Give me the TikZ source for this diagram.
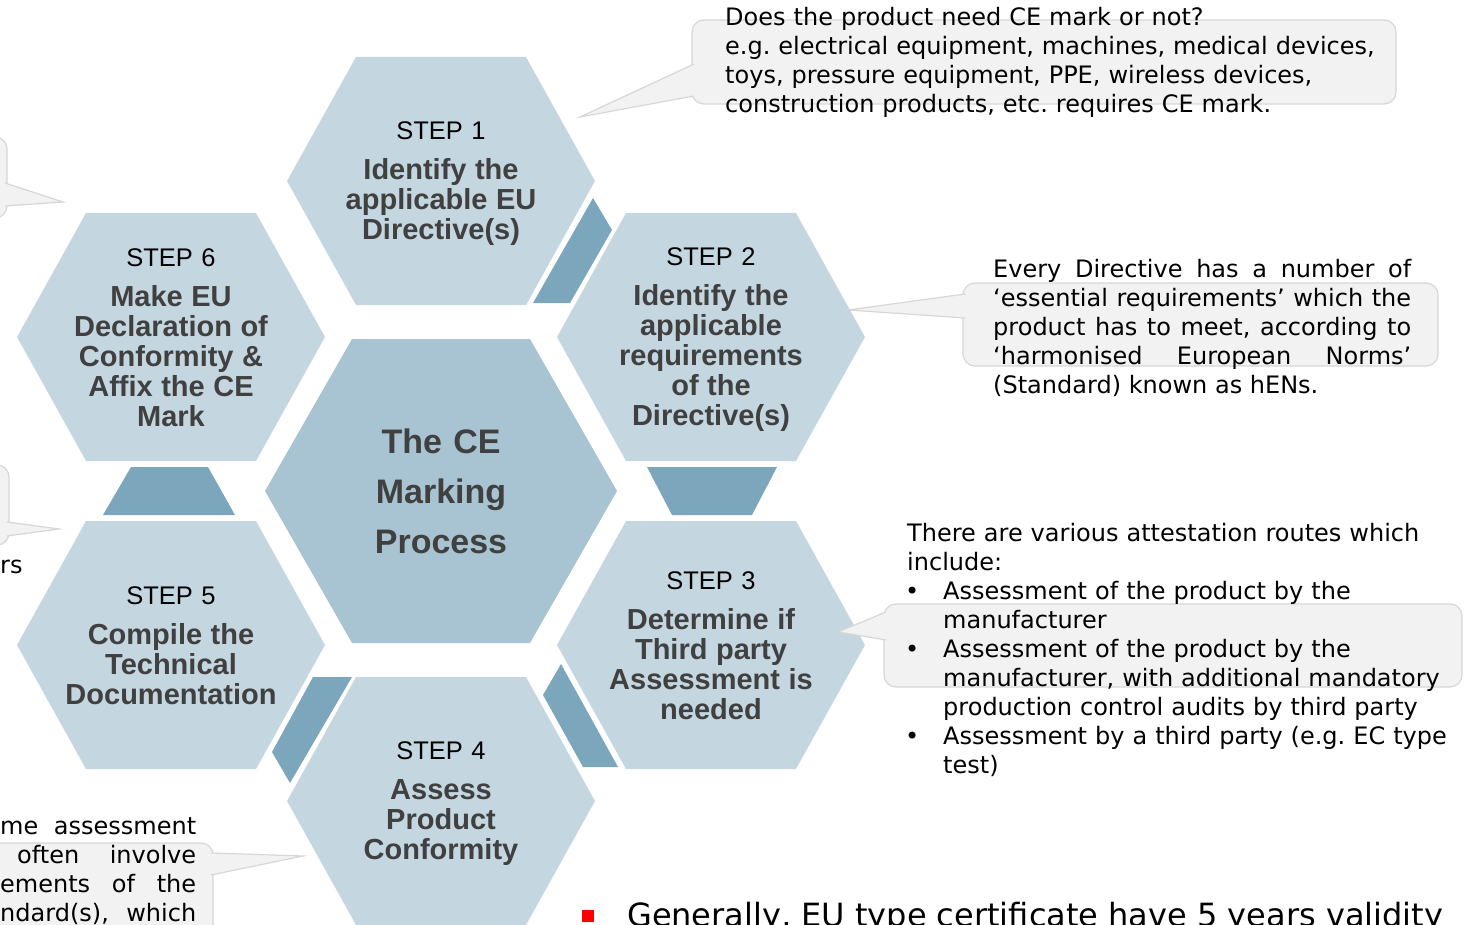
\documentclass[tikz,border=0pt]{standalone}
\usepackage{fontspec}
\setmainfont{Liberation Sans}
\newfontfamily\notefont{DejaVu Sans}
\usetikzlibrary{calc}
\definecolor{hexblue}{HTML}{C4D6E0}
\definecolor{hexcore}{HTML}{A8C3D1}
\definecolor{linkblue}{HTML}{7CA6BC}
\definecolor{titlegray}{HTML}{404040}
\definecolor{notefill}{HTML}{F2F2F2}
\definecolor{noteline}{HTML}{D7D7D7}
\def\hexagon[#1](#2)(#3:#4:#5){\fill[#1,shift={(#2)}] (-#3,0) -- (-#4,-#5) -- (#4,-#5) -- (#3,0) -- (#4,#5) -- (-#4,#5) -- cycle;}
\def\notetail(#1)(#2)(#3){\fill[notefill] (#1) -- (#2) -- (#3) -- cycle; \draw[noteedge] (#1) -- (#2) -- (#3);}
\newcommand{\stepfont}{\fontsize{25.5}{30}\selectfont}
\newcommand{\titlefont}{\fontsize{29}{30}\selectfont\bfseries\color{titlegray}}
\newcommand{\notebullet}{\makebox[36pt][l]{\hspace*{-2pt}•}}
\newcommand{\noteindent}{\hspace*{36pt}}

\begin{document}
\begin{tikzpicture}[x=1pt, y=-1pt,
	steptext/.style={text width=260pt, align=center, inner sep=0pt, yshift=-3pt, execute at end node={\vphantom{(}}, font=\stepfont},
	coretext/.style={text width=260pt, align=center, inner sep=0pt, font=\fontsize{34}{50}\selectfont\bfseries, text=titlegray},
	notetext/.style={inner sep=0pt, anchor=base west, font=\notefont\fontsize{24}{29}\selectfont\frenchspacing},
	notebox/.style={fill=notefill, draw=noteline, line width=1.2pt, rounded corners=12pt},
	noteedge/.style={draw=noteline, line width=1.2pt},
	link/.style={fill=linkblue}]
		%%%%% START %%%%%
		\useasboundingbox (0,0) rectangle (1466,925);
		\clip (0,0) rectangle (1466,925);
		
		\coordinate (core) at (441,491);
		\coordinate (s1) at (441,181);
		\coordinate (s2) at (711,337);
		\coordinate (s3) at (711,645);
		\coordinate (s4) at (441,801);
		\coordinate (s5) at (171,645);
		\coordinate (s6) at (171,337);
		
		\hexagon[hexblue](s1)(154:85:124);
		\hexagon[hexblue](s2)(154:85:124);
		\hexagon[hexblue](s3)(154:85:124);
		\hexagon[hexblue](s4)(154:85:124);
		\hexagon[hexblue](s5)(154:85:124);
		\hexagon[hexblue](s6)(154:85:124);
		\hexagon[hexcore](core)(176:89:152);
		
		\fill[link] (593,198) -- (612,230) -- (570,303) -- (533,303) -- cycle;
		\fill[link] (647,467) -- (777,467) -- (752,515) -- (672,515) -- cycle;
		\fill[link] (561,664) -- (618,767) -- (583,767) -- (543,695) -- cycle;
		\fill[link] (313,677) -- (352,677) -- (290,783) -- (272,752) -- cycle;
		\fill[link] (131,467) -- (208,467) -- (235,515) -- (103,515) -- cycle;
		
		\draw[notebox] (692,20) rectangle (1396,104);
		\notetail(694,64)(580,117)(694,96)
		\draw[notebox] (963,283) rectangle (1438,366);
		\notetail(965,294)(848,310)(965,318)
		\draw[notebox] (884,604) rectangle (1462,687);
		\notetail(886,612)(838,632)(886,640)
		\draw[notebox] (-40,843) rectangle (213,950);
		\notetail(211,853)(303,856)(211,875)
		\draw[notebox] (-60,137) rectangle (7,218);
		\notetail(5,183)(63,202)(5,206)
		\draw[notebox] (-60,465) rectangle (9,545);
		\notetail(7,522)(59,529)(7,536)
		
		\node[steptext] (step1) at (s1) {STEP 1\\[10pt]\titlefont Identify the\\applicable EU\\Directive(s)};
		\node[steptext] (step2) at (s2) {STEP 2\\[10pt]\titlefont Identify the\\applicable\\requirements\\of the\\Directive(s)};
		\node[steptext] (step3) at (s3) {STEP 3\\[10pt]\titlefont Determine if\\Third party\\Assessment is\\needed};
		\node[steptext] (step4) at (s4) {STEP 4\\[10pt]\titlefont Assess\\Product\\Conformity};
		\node[steptext] (step5) at (s5) {STEP 5\\[10pt]\titlefont Compile the\\Technical\\Documentation};
		\node[steptext] (step6) at (s6) {STEP 6\\[10pt]\titlefont Make EU\\Declaration of\\Conformity \&\\Affix the CE\\Mark};
		\node[coretext] (title) at (core) {The CE\\Marking\\Process};
		
		\node[notetext, text width=700pt, align=left] (ce-note) at (725,26) {Does the product need CE mark or not?\\e.g. electrical equipment, machines, medical devices,\\toys, pressure equipment, PPE, wireless devices,\\construction products, etc. requires CE mark.};
		\node[notetext, text width=418pt, align=justify] (hen-note) at (993,277) {\tolerance=10000 Every Directive has a number of\linebreak ‘essential requirements’ which the\linebreak product has to meet, according to\linebreak ‘harmonised European Norms’\linebreak (Standard) known as hENs.};
		\node[notetext, text width=560pt, align=left] (route-note) at (907,541) {There are various attestation routes which\\include:\\\notebullet Assessment of the product by the\\\noteindent manufacturer\\\notebullet Assessment of the product by the\\\noteindent manufacturer, with additional mandatory\\\noteindent production control audits by third party\\\notebullet Assessment by a third party (e.g. EC type\\\noteindent test)};
		\node[notetext, text width=196pt, align=justify] (scheme-note) at (0,834) {\tolerance=10000 me assessment\linebreak\hspace*{17pt}often involve\linebreak ements of the\linebreak ndard(s),\hskip 0pt plus 1filll which};
		\node[notetext] (cut-note) at (0,573) {rs};
		
		\fill[red] (582,910) rectangle (594,922);
		\node[inner sep=0pt, anchor=base west, font=\notefont\fontsize{32}{38}\selectfont] (validity) at (627,926) {Generally, EU type certificate have 5 years validity};
		%%%%% END %%%%%
\end{tikzpicture}
\end{document}
